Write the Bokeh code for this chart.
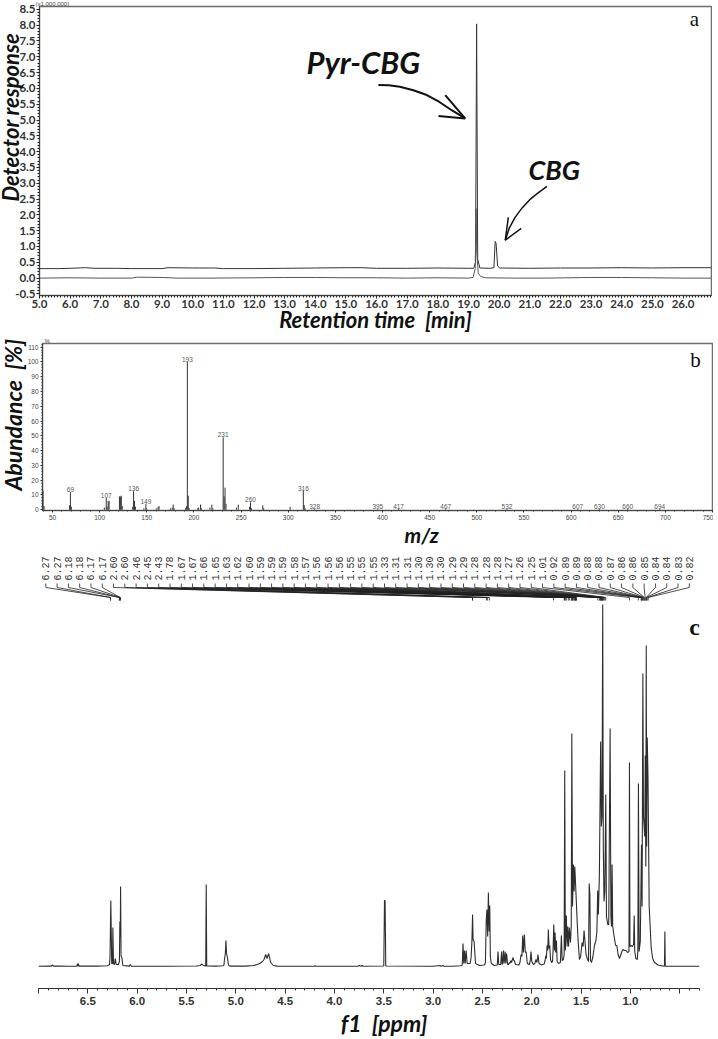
import math
from bokeh.core.properties import value
from bokeh.embed import file_html
from bokeh.layouts import column, row
from bokeh.models import FixedTicker, Label, NumeralTickFormatter, Range1d, Title
from bokeh.plotting import figure
from bokeh.resources import INLINE

# a: chromatogram
upper_t = [5.0, 5.6, 6.0, 6.5, 6.8, 7.5, 8.0, 9.0, 9.2, 10.0, 10.7, 11.0, 12.0, 13.0, 14.0, 15.0, 15.5, 16.0, 17.0,
           18.0, 19.0, 19.17, 19.23, 19.265, 19.3, 19.37, 19.7, 19.83, 19.87, 19.9, 19.95, 20.02, 21.0, 22.0, 23.0,
           24.0, 25.0, 26.0, 26.93]
upper_r = [0.30, 0.30, 0.31, 0.33, 0.31, 0.31, 0.30, 0.30, 0.33, 0.32, 0.32, 0.30, 0.30, 0.31, 0.32, 0.33, 0.33,
           0.31, 0.31, 0.32, 0.31, 0.31, 0.5, 8.04, 0.6, 0.32, 0.31, 0.33, 1.16, 1.1, 0.38, 0.32, 0.31, 0.32, 0.32,
           0.33, 0.32, 0.33, 0.33]
lower_t = [5.0, 6.0, 7.0, 8.0, 8.2, 9.0, 9.5, 10.5, 12.0, 13.0, 14.0, 15.0, 16.0, 17.0, 18.0, 19.0, 19.15, 19.22,
           19.245, 19.27, 19.32, 19.4, 19.55, 20.5, 21.5, 23.0, 24.0, 25.0, 26.0, 26.93]
lower_r = [0.0, 0.01, 0.0, 0.0, 0.03, 0.02, 0.0, 0.0, 0.01, 0.02, 0.02, 0.01, 0.01, 0.0, 0.01, 0.0, 0.02, 0.3,
           2.2, 0.8, 0.15, 0.05, 0.01, 0.0, 0.0, 0.02, 0.02, 0.01, 0.0, 0.0]
pyr_arrow_t = [16.06, 16.4, 16.76, 17.2, 17.64, 18.05, 18.45, 18.89]
pyr_arrow_r = [6.11, 6.1, 6.05, 5.94, 5.79, 5.57, 5.31, 5.05]
pyr_head_t = [18.24, 18.89, 18.02]
pyr_head_r = [5.79, 5.05, 5.13]
cbg_arrow_t = [21.56, 21.25, 21.02, 20.75, 20.52, 20.33, 20.2]
cbg_arrow_r = [2.9, 2.68, 2.5, 2.22, 1.92, 1.58, 1.2]
cbg_head_t = [20.3, 20.2, 20.72]
cbg_head_r = [1.92, 1.2, 1.57]

# b: mass spectrum
mz = [40, 41, 68, 69, 70, 105, 107, 108, 109, 110, 121, 122, 123, 124, 135, 136, 137, 138, 147, 149, 150, 160, 162,
      163, 175, 177, 178, 179, 191, 192, 193, 194, 195, 204, 205, 207, 208, 217, 219, 220, 231, 232, 233, 234, 245,
      247, 259, 260, 261, 273, 274, 302, 316, 317, 318, 328, 395, 417, 467, 532, 607, 630, 660, 694]
abundance = [13, 2.5, 3, 12, 2, 1.5, 8, 2, 6, 6, 9, 9, 9.5, 2.5, 2, 12.5, 6, 2, 1, 4, 1, 1, 2, 2.5, 1, 1.5, 3.5, 1,
             1, 2.5, 100, 9.5, 1, 1, 1.5, 3.5, 1, 1.5, 3.5, 1, 49, 9, 15, 4, 1.5, 3.5, 2, 5, 1, 3, 1, 2, 13, 3, 1,
             0.5, 0.5, 0.5, 0.5, 0.5, 0.5, 0.5, 0.5, 0.5]
mz_labels = [69, 107, 136, 149, 193, 231, 260, 316, 328, 395, 417, 467, 532, 607, 630, 660, 694]
mz_label_y = [12, 8, 12.5, 4, 100, 49, 5, 13, 0.5, 0.5, 0.5, 0.5, 0.5, 0.5, 0.5, 0.5, 0.5]

# c: NMR spectrum
nmr_ppm = [7.0, 6.9, 6.87, 6.86, 6.85, 6.8, 6.7, 6.61, 6.605, 6.6, 6.595, 6.59, 6.4, 6.3, 6.28, 6.275, 6.267, 6.258,
           6.25, 6.246, 6.24, 6.23, 6.222, 6.212, 6.19, 6.18, 6.175, 6.171, 6.168, 6.163, 6.155, 6.145, 6.08, 6.07,
           6.06, 5.7, 5.4, 5.36, 5.343, 5.33, 5.31, 5.305, 5.3, 5.295, 5.2, 5.13, 5.12, 5.115, 5.106, 5.1, 5.094,
           5.085, 5.075, 5.06, 4.9, 4.82, 4.78, 4.75, 4.73, 4.714, 4.697, 4.684, 4.667, 4.647, 4.62, 4.58, 4.2,
           4.195, 4.19, 3.76, 3.75, 3.73, 3.72, 3.71, 3.5, 3.493, 3.487, 3.48, 3.0, 2.93, 2.92, 2.9, 2.89, 2.8,
           2.72, 2.705, 2.697, 2.69, 2.682, 2.675, 2.665, 2.655, 2.625, 2.615, 2.607, 2.6, 2.595, 2.585, 2.57, 2.53,
           2.48, 2.47, 2.462, 2.455, 2.447, 2.44, 2.432, 2.426, 2.42, 2.41, 2.38, 2.35, 2.342, 2.335, 2.315, 2.306,
           2.3, 2.295, 2.287, 2.28, 2.27, 2.263, 2.255, 2.245, 2.235, 2.227, 2.22, 2.213, 2.205, 2.19, 2.183, 2.177,
           2.165, 2.13, 2.12, 2.109, 2.1, 2.092, 2.085, 2.075, 2.066, 2.058, 2.045, 2.025, 2.015, 2.008, 2.0, 1.985,
           1.97, 1.957, 1.947, 1.937, 1.927, 1.9, 1.875, 1.865, 1.858, 1.852, 1.845, 1.838, 1.832, 1.825, 1.818,
           1.81, 1.8, 1.79, 1.785, 1.777, 1.77, 1.764, 1.757, 1.75, 1.743, 1.73, 1.71, 1.7, 1.692, 1.68, 1.672,
           1.666, 1.66, 1.65, 1.642, 1.635, 1.627, 1.619, 1.608, 1.6, 1.594, 1.587, 1.578, 1.571, 1.564, 1.555, 1.54,
           1.53, 1.517, 1.505, 1.49, 1.48, 1.47, 1.46, 1.45, 1.435, 1.425, 1.418, 1.411, 1.405, 1.395, 1.38, 1.365,
           1.35, 1.34, 1.332, 1.325, 1.315, 1.302, 1.295, 1.288, 1.281, 1.275, 1.268, 1.26, 1.25, 1.243, 1.23, 1.22,
           1.206, 1.198, 1.192, 1.186, 1.18, 1.165, 1.15, 1.138, 1.125, 1.111, 1.09, 1.077, 1.06, 1.045, 1.03, 1.015,
           1.01, 1.005, 0.995, 0.98, 0.968, 0.962, 0.956, 0.945, 0.93, 0.925, 0.919, 0.912, 0.9, 0.888, 0.882, 0.874,
           0.868, 0.855, 0.85, 0.844, 0.84, 0.835, 0.83, 0.822, 0.81, 0.79, 0.775, 0.756, 0.72, 0.68, 0.655, 0.651,
           0.647, 0.6, 0.3]
nmr_int = [0.3, 0.5, 0.4, 1.7, 0.4, 0.5, 0.3, 0.4, 3, 0.4, 3, 0.4, 0.4, 0.8, 2, 10, 66, 3, 3, 39, 3, 2, 8, 2, 2, 5,
           45, 30, 80, 10, 9, 1, 0.4, 2, 0.4, 0.3, 0.5, 1, 2.5, 1, 0.6, 0.6, 82, 0.5, 0.4, 0.8, 1.5, 7, 13, 26, 13,
           9, 1.5, 0.4, 0.4, 1, 2, 3.5, 5, 7, 12, 8, 13, 4, 1, 0.4, 0.3, 1, 0.3, 0.3, 1, 0.3, 1, 0.3, 0.5, 66, 66,
           0.5, 0.3, 1, 0.3, 1, 0.3, 0.3, 0.7, 1.5, 23, 3, 16, 3, 16, 3, 3, 9, 25, 52, 27, 25, 3, 1, 1.5, 4, 45, 57,
           30, 74, 35, 61, 10, 3, 1, 1.5, 15, 2, 2, 15, 2, 3, 16, 3, 15, 3, 13, 2, 2, 4, 3, 6, 4, 9, 6, 6, 2, 1.5, 4,
           12, 10, 31, 14, 32, 14, 15, 3, 2, 6, 15, 5, 2, 3, 7, 4, 12, 3, 1.5, 2.5, 6, 11, 8, 21, 16, 37, 18, 21, 7,
           4, 5, 14, 42, 16, 34, 14, 26, 5, 3, 4, 31, 6, 7, 12, 196, 16, 51, 20, 40, 20, 39, 24, 40, 233, 60, 102, 75,
           100, 80, 45, 25, 7, 10, 24, 20, 36, 24, 12, 7, 5, 83, 72, 6, 4, 10, 21, 26, 35, 76, 52, 90, 225, 140, 150,
           362, 120, 65, 75, 172, 50, 42, 42, 238, 50, 40, 102, 40, 30, 21, 21, 12, 8, 14, 17, 16, 16, 14, 15, 204,
           20, 21, 20, 22, 51, 15, 8, 7, 15, 183, 15, 25, 122, 60, 293, 150, 130, 211, 100, 321, 120, 229, 190, 60,
           19, 8, 4, 1.5, 0.5, 0.4, 35, 0.4, 0.3, 0.3]
peak_labels = ["6.27", "6.27", "6.18", "6.18", "6.17", "6.17", "2.60", "2.60", "2.46", "2.45", "2.43", "1.78", "1.67",
               "1.67", "1.66", "1.65", "1.63", "1.62", "1.60", "1.59", "1.59", "1.59", "1.58", "1.57", "1.56", "1.56",
               "1.56", "1.55", "1.55", "1.55", "1.33", "1.31", "1.31", "1.30", "1.30", "1.30", "1.29", "1.29", "1.28",
               "1.28", "1.28", "1.27", "1.26", "1.25", "1.01", "0.92", "0.89", "0.89", "0.88", "0.88", "0.87", "0.86",
               "0.86", "0.85", "0.84", "0.84", "0.83", "0.82"]
nmr_ticks = [7.0, 6.5, 6.0, 5.5, 5.0, 4.5, 4.0, 3.5, 3.0, 2.5, 2.0, 1.5, 1.0, 0.5]
nmr_tick_text = ["", "6.5", "6.0", "5.5", "5.0", "4.5", "4.0", "3.5", "3.0", "2.5", "2.0", "1.5", "1.0", ""]

FRAME = "#6e6e6e"
NBSP = "\u00a0"


def add_label(p, x, y, text, font="Lato", size=22, style="bold italic", color="#111111"):
    p.add_layout(Label(x=x, y=y, text=text, text_font=font, text_font_size=f"{size}px", text_font_style=style,
                       text_color=color, text_align="center", text_baseline="middle"))


def axis_title(ax, text, size, standoff):
    # leading spaces push the title off the centre of the frame, as in the original
    ax.axis_label = text
    ax.axis_label_text_font = "Lato"
    ax.axis_label_text_font_size = f"{size}px"
    ax.axis_label_text_font_style = "bold italic"
    ax.axis_label_text_color = "#111111"
    ax.axis_label_standoff = standoff


# panel a
pa = figure(width=718, height=337, output_backend="svg", toolbar_location=None, x_range=Range1d(5.0, 26.93),
            y_range=Range1d(-0.55, 8.59), min_border_left=40, min_border_right=1, min_border_top=7,
            min_border_bottom=35)
pa.title = Title(text="(x1,000,000)", align="left", standoff=0, offset=-4, text_font="Liberation Sans",
                 text_font_size="6px", text_font_style="normal", text_color="#444444")
pa.grid.visible = False
pa.outline_line_color = FRAME
pa.outline_line_width = 1.5
pa.line(upper_t, upper_r, color="#333333", line_width=1)
pa.line(lower_t, lower_r, color="#555555", line_width=1)
pa.line(pyr_arrow_t, pyr_arrow_r, color="#111111", line_width=2)
pa.line(pyr_head_t, pyr_head_r, color="#111111", line_width=2)
pa.line(cbg_arrow_t, cbg_arrow_r, color="#111111", line_width=1.5)
pa.line(cbg_head_t, cbg_head_r, color="#111111", line_width=1.5)
pa.xaxis.ticker = FixedTicker(ticks=[5.0 + i for i in range(22)], minor_ticks=[5.0 + i * 0.1 for i in range(220)])
pa.yaxis.ticker = FixedTicker(ticks=[-0.5 + i * 0.5 for i in range(19)], minor_ticks=[-0.5 + i * 0.1 for i in range(91)])
for ax in (pa.xaxis[0], pa.yaxis[0]):
    ax.formatter = NumeralTickFormatter(format="0.0")
    ax.axis_line_color = "#444444"
    ax.major_tick_line_color = "#222222"
    ax.minor_tick_line_color = "#222222"
    ax.major_tick_in = 0
    ax.major_tick_out = 3
    ax.minor_tick_in = 0
    ax.minor_tick_out = 2
    ax.major_label_text_font = "Lato"
    ax.major_label_text_font_size = "11.5px"
    ax.major_label_text_font_style = "bold"
    ax.major_label_text_color = "#333333"
    ax.major_label_standoff = 1
axis_title(pa.yaxis[0], NBSP * 14 + "Detector response", 22, -12)
axis_title(pa.xaxis[0], "Retention time" + NBSP * 2 + "[min]", 22, -5)
add_label(pa, 15.57, 6.84, "Pyr-CBG", size=31)
add_label(pa, 21.8, 3.42, "CBG", size=27)
add_label(pa, 26.37, 8.2, "a", font="Liberation Serif", size=21, style="normal")

# panel b
pb = figure(width=718, height=219, output_backend="svg", toolbar_location=None, x_range=Range1d(39.4, 751.0),
            y_range=Range1d(-0.5, 112.4), min_border_left=43, min_border_right=0, min_border_top=13,
            min_border_bottom=35, border_fill_color=None, background_fill_color=None)
pb.title = Title(text="%", align="left", standoff=0, offset=2, text_font="Liberation Sans", text_font_size="6px",
                 text_font_style="normal", text_color="#444444")
pb.grid.visible = False
pb.outline_line_color = FRAME
pb.outline_line_width = 1.5
pb.segment(mz, [0] * len(mz), mz, abundance, color="#333333", line_width=1)
pb.text(mz_labels, mz_label_y, text=[str(m) for m in mz_labels], text_font=value("Liberation Sans"),
        text_font_size="6.5px", text_color="#555555", text_align="center", text_baseline="bottom")
pb.xaxis.ticker = FixedTicker(ticks=[50 * i for i in range(1, 16)], minor_ticks=[40 + 10 * i for i in range(72)])
pb.yaxis.ticker = FixedTicker(ticks=[10 * i for i in range(12)], minor_ticks=[2 * i for i in range(57)])
for ax in (pb.xaxis[0], pb.yaxis[0]):
    ax.axis_line_color = "#444444"
    ax.major_tick_line_color = "#333333"
    ax.minor_tick_line_color = "#333333"
    ax.major_tick_in = 0
    ax.major_tick_out = 2
    ax.minor_tick_in = 0
    ax.minor_tick_out = 1
    ax.major_label_text_font = "Liberation Sans"
    ax.major_label_text_font_size = "6.5px"
    ax.major_label_text_color = "#444444"
    ax.major_label_standoff = 2
axis_title(pb.yaxis[0], NBSP * 5 + "Abundance" + NBSP * 2 + "[%]", 23, -2)
axis_title(pb.xaxis[0], NBSP * 19 + "m/z", 21, -1)
add_label(pb, 732, 101, "b", font="Liberation Serif", size=21, style="normal")

# panel c
pc = figure(width=718, height=494, output_backend="svg", toolbar_location=None, x_range=Range1d(7.0, 0.3),
            y_range=Range1d(-22, 421), min_border_left=38, min_border_right=19, min_border_top=0,
            min_border_bottom=51, border_fill_color=None, background_fill_color=None)
pc.grid.visible = False
pc.outline_line_color = None
pc.yaxis.visible = False
pc.line(nmr_ppm, nmr_int, color="#2e2e2e", line_width=1.1)

# peak picking tree above the spectrum
label_x = [7.0 - (45.3 + i * 11.29 - 38) / 98.66 for i in range(len(peak_labels))]
peak_x = [float(t) for t in peak_labels]
pc.text(label_x, [386] * len(label_x), text=peak_labels, text_font=value("Liberation Mono"), text_font_size="10px",
        text_color="#333333", angle=math.pi / 2, text_align="left", text_baseline="middle")
pc.multi_line([[a, a, b, b] for a, b in zip(label_x, peak_x)], [[383, 379, 369, 366] for _ in label_x],
              line_color="#222222", line_width=0.8)
pc.xaxis.ticker = FixedTicker(ticks=nmr_ticks, minor_ticks=[0.3 + i * 0.1 for i in range(68)])
pc.xaxis.major_label_overrides = dict(zip(nmr_ticks, nmr_tick_text))
pc.xaxis.axis_line_color = "#333333"
pc.xaxis.major_tick_line_color = "#333333"
pc.xaxis.minor_tick_line_color = "#333333"
pc.xaxis.major_tick_in = 0
pc.xaxis.major_tick_out = 5
pc.xaxis.minor_tick_in = 0
pc.xaxis.minor_tick_out = 2
pc.xaxis.major_label_text_font = "Liberation Sans"
pc.xaxis.major_label_text_font_size = "11.5px"
pc.xaxis.major_label_text_font_style = "bold"
pc.xaxis.major_label_text_color = "#333333"
pc.xaxis.major_label_standoff = 3
axis_title(pc.xaxis[0], NBSP * 6 + "f1" + NBSP * 2 + "[ppm]", 23, 1)
add_label(pc, 0.35, 340, "c", font="Liberation Serif", size=24, style="bold")

# each figure in its own row, otherwise the column lines up their frames
# the rows are pulled left and up to put the frames where the original has them
page = column(row(pa, margin=(-2, 0, -5, -6)), row(pb, margin=(0, 0, -4, -5)), row(pc), spacing=0)
open("out.html", "w").write(file_html(page, INLINE))
